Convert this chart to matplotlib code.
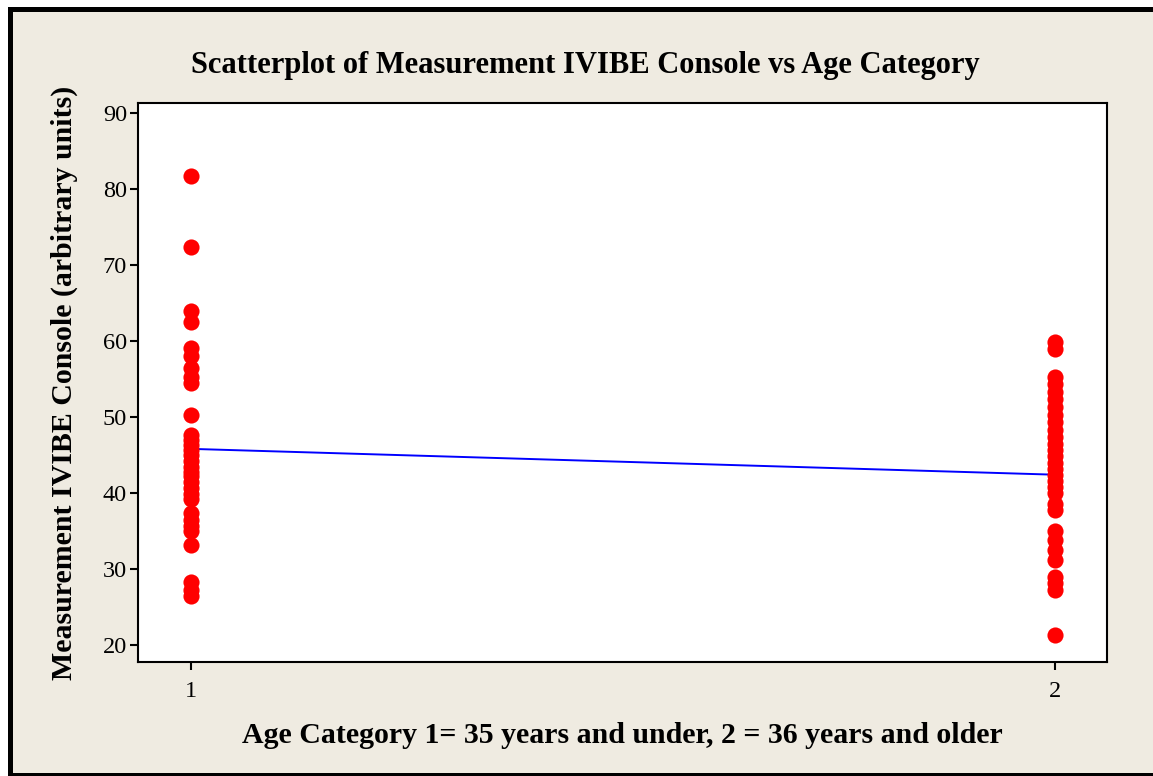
import matplotlib
matplotlib.use("Agg")
import matplotlib.pyplot as plt
from matplotlib.patches import Rectangle

# values (Minitab scatterplot)
group1_y = [81.7, 72.3, 63.9, 62.5, 59.1, 58.0, 56.5, 55.3, 54.5, 50.2,
            47.6, 47.0, 46.3, 45.6, 45.0, 44.2, 43.4, 42.8, 42.2, 41.4,
            40.6, 39.8, 39.2, 37.4, 36.4, 35.6, 35.0, 33.1, 28.3, 27.2, 26.4]
group2_y = [59.9, 59.0, 55.3, 54.3, 53.3, 52.3, 51.3, 50.3, 49.3, 48.3,
            47.3, 46.5, 45.6, 44.8, 44.0, 43.2, 42.4, 41.6, 40.8, 40.0,
            38.6, 37.8, 35.0, 33.8, 32.5, 31.2, 29.0, 28.1, 27.2, 21.3]
fit_x = [1, 2]
fit_y = [45.8, 42.4]

plt.rcParams['font.family'] = ['Liberation Serif', 'DejaVu Serif']

fig = plt.figure(figsize=(11.53, 7.76), dpi=100, facecolor='white')
# outer minitab frame
fig.patches.append(Rectangle((9.5 / 1153, 1.5 / 776), 1.05, (767 - 1.5) / 776,
                             transform=fig.transFigure, facecolor='#EFEBE1',
                             edgecolor='black', linewidth=3.6, zorder=-5))

ax = fig.add_axes([138 / 1153, 114 / 776, 969 / 1153, 559 / 776])
ax.set_facecolor('white')
ax.set_zorder(1)

ax.plot(fit_x, fit_y, color='#0000FF', linewidth=1.4, zorder=2)
ax.scatter([1] * len(group1_y), group1_y, s=135, color='#FF0000', linewidths=0, zorder=3)
ax.scatter([2] * len(group2_y), group2_y, s=135, color='#FF0000', linewidths=0, zorder=3)

ax.set_xlim(0.9387, 2.06)
ax.set_ylim(17.76, 91.3)
ax.set_xticks([1, 2])
ax.set_yticks([20, 30, 40, 50, 60, 70, 80, 90])
ax.tick_params(direction='out', length=6, width=1.5, labelsize=17.5)
ax.tick_params(axis='y', pad=2)
ax.tick_params(axis='x', pad=8)
for sp in ax.spines.values():
    sp.set_linewidth(1.5)

fig.text(585 / 1153, 1 - 66 / 776, 'Scatterplot of Measurement IVIBE Console vs Age Category',
         ha='center', va='center', fontsize=22, fontweight='bold')
ax.set_xlabel('Age Category 1= 35 years and under, 2 = 36 years and older',
              fontsize=21.5, fontweight='bold', labelpad=14)
ax.set_ylabel('Measurement IVIBE Console (arbitrary units)',
              fontsize=21.5, fontweight='bold', labelpad=18)

fig.savefig('out.png', dpi=100)
